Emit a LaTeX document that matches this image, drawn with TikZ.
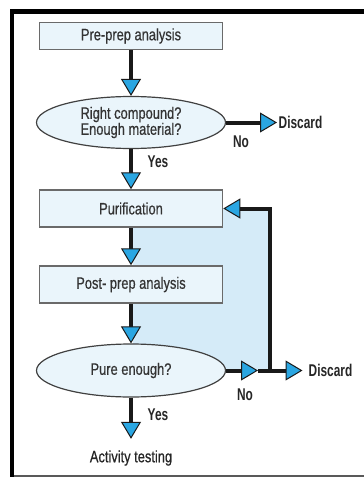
\documentclass[tikz,border=0pt]{standalone}
\usepackage{fontspec}
\setmainfont{Liberation Sans}[FakeStretch=0.78]
\newfontfamily\nodefont{Liberation Sans}[FakeStretch=0.78,FakeBold=0.6]
\newfontfamily\lblfont{Liberation Sans}[FakeStretch=0.70]
\usetikzlibrary{arrows.meta,shapes.geometric}
\definecolor{boxfill}{HTML}{EAF5FB}
\definecolor{loopfill}{HTML}{D5EBF8}
\definecolor{tipblue}{HTML}{2AA6E2}
\definecolor{boxline}{HTML}{6A6A6A}
\definecolor{txt}{HTML}{333333}
\begin{document}
\begin{tikzpicture}[x=1pt,y=-1pt,
  stepbox/.style={draw=boxline, line width=1.5pt, fill=boxfill, minimum width=183pt,
    minimum height=37pt, inner sep=0pt, font=\nodefont\fontsize{16.5}{17}\selectfont, text=txt},
  decision/.style={ellipse, draw=black!75, line width=1.2pt, fill=boxfill, minimum width=189pt,
    minimum height=52pt, inner sep=0pt, align=center, font=\nodefont\fontsize{16.5}{16}\selectfont, text=txt},
  lbl/.style={font=\lblfont\bfseries\fontsize{17}{17}\selectfont, text=black!85, inner sep=0pt},
  flow/.style={line width=4pt, draw=black!90,
    -{Triangle[width=20pt,length=17pt,fill=tipblue,line width=1pt]}},
  flowline/.style={line width=4pt, draw=black!90}]
\useasboundingbox (0,0) rectangle (364,477);
% frame
\draw[line width=4.5pt] (12,477) -- (12,11.5) -- (364,11.5);
\draw[black!65, line width=2pt] (14,476) -- (364,476);
% loop background
\fill[loopfill] (133,208.5) rectangle (270,370.5);
% nodes
\node[stepbox, minimum height=27pt] (pre) at (131,36) {Pre-prep analysis};
\node[decision] (q1) at (131,122.5) {Right compound?\\Enough material?};
\node[lbl, anchor=west, inner xsep=1.5pt] (d1) at (277,122.5) {Discard};
\node[stepbox] (pur) at (131,208.5) {Purification};
\node[stepbox] (post) at (131,284.5) {Post- prep analysis};
\node[decision, minimum height=53pt] (q2) at (131,370.5) {Pure enough?};
\node[lbl, anchor=west, inner xsep=1.5pt] (d2) at (307,370.5) {Discard};
\node[font=\nodefont\fontsize{16.5}{17}\selectfont, text=black!85, minimum height=38pt, inner sep=0pt] (act) at (131,458) {Activity testing};
\coordinate (m) at (258,370.5);
\coordinate (j) at (270,370.5);
\coordinate (c) at (270,208.5);
% labels
\node[lbl] (no1) at (241,142) {No};
\node[lbl] (yes1) at (158,162) {Yes};
\node[lbl] (no2) at (245,395) {No};
\node[lbl] (yes2) at (158,415) {Yes};
% connectors
\draw[flow] (pre) -- (q1);
\draw[flow] (q1) -- (d1);
\draw[flow] (q1) -- (pur);
\draw[flow] (pur) -- (post);
\draw[flow] (post) -- (q2);
\draw[flow] (q2) -- (act);
\draw[flow] (m) -- (j) -- (c) -- (pur);
\draw[flow, shorten >=4.5pt] (j) -- (d2);
\draw[flow] (q2) -- (m);
\end{tikzpicture}
\end{document}
